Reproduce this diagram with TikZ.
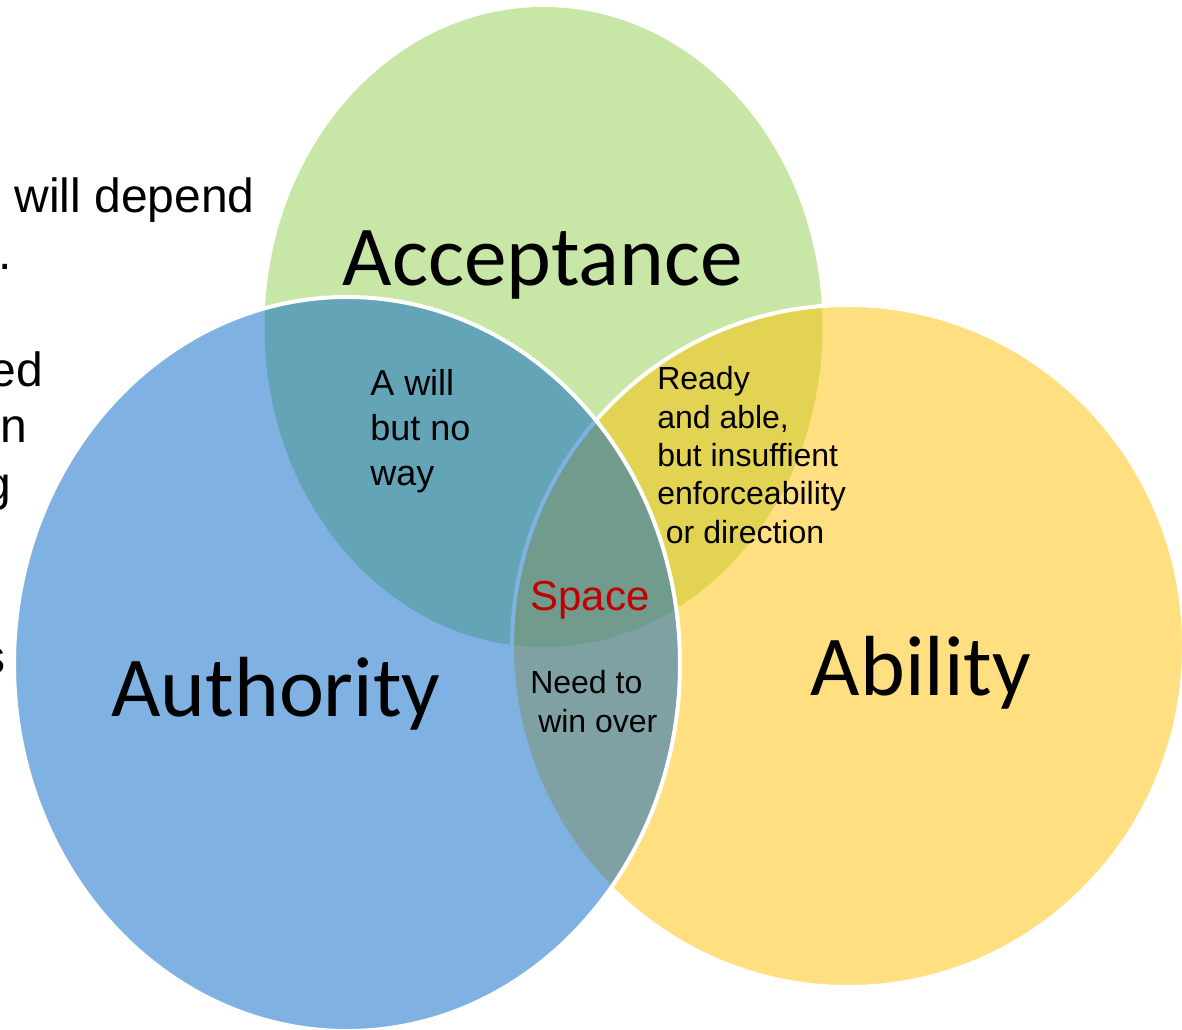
\documentclass[tikz,border=0pt]{standalone}
\usepackage{fontspec}
\setmainfont{Liberation Sans}
\newfontfamily\headfont{Carlito}

\definecolor{accgreen}{RGB}{146,208,80}
\definecolor{ablyellow}{RGB}{255,192,0}
\definecolor{authblue}{RGB}{0,100,200}
\definecolor{spacered}{RGB}{192,0,0}

\tikzset{
    bigname/.style={font=\headfont\fontsize{64}{77}\selectfont, inner sep=0pt, anchor=base},
    zonetext/.style={align=left, inner sep=0pt, anchor=base west, font=\fontsize{24}{28.7}\selectfont},
    slidetext/.style={inner sep=0pt, anchor=base east, font=\fontsize{36}{43}\selectfont},
    oval/.style={fill opacity=0.5, draw=white, line width=3pt},
}

\begin{document}
\begin{tikzpicture}[x=0.75pt, y=-0.75pt]
            \useasboundingbox (0,0) rectangle (1182,1030);
            \clip (0,0) rectangle (1182,1030);

            \def\Xg{543.5};
            \def\Yg{327};
            \def\Xb{347};
            \def\Yb{664};
            \def\Xy{848};
            \def\Yy{646};

            % slide text running in from the left
            \node[slidetext] (line1) at (255,213) {will depend};
            \node[slidetext] (line2) at (12,270) {e.};
            \node[slidetext] (line3) at (43,387) {ed};
            \node[slidetext] (line4) at (27,443) {n};
            \node[slidetext] (line5) at (11,500) {g};
            \node[slidetext] (line6) at (6,673) {s};

            % acceptance oval
            \fill[accgreen, fill opacity=0.5] (\Xg, \Yg) ellipse (279 and 320);

            % ability oval
            \draw[oval, fill=ablyellow] (\Xy, \Yy) ellipse (336 and 341);

            % authority oval
            \draw[oval, fill=authblue] (\Xb, \Yb) ellipse (333 and 367);

            % names of the ovals
            \node[bigname] (accept) at (543,286) {Acceptance};
            \node[bigname] (author) at (276,716) {Authority};
            \node[bigname] (abil) at (921,695) {Ability};

            % overlaps (base = last line)
            \node[zonetext, font=\fontsize{27}{33.4}\selectfont] (noway) at (370,485) {A will\\but no\\way};
            \node[zonetext] (ready) at (657,543) {Ready\\and able,\\but insuffient\\enforceability\\\hspace*{6.5pt}or direction};
            \node[zonetext] (winover) at (530,732) {Need to\\\hspace*{6pt}win over};

            % centre
            \node[inner sep=0pt, anchor=base, text=spacered, font=\fontsize{31.5}{38}\selectfont] (space) at (590,610) {Space};

        \end{tikzpicture}
\end{document}
